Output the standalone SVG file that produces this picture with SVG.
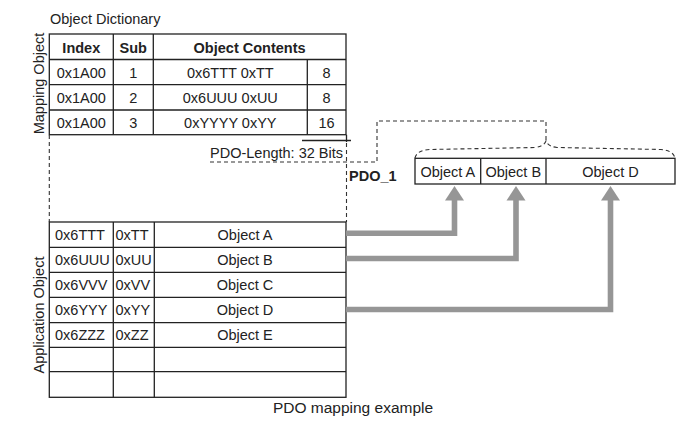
<svg xmlns="http://www.w3.org/2000/svg" width="700" height="434" viewBox="0 0 700 434">
<style>
text{font-family:"Liberation Sans",Arial,sans-serif;font-size:14.5px;fill:#222}
.b{font-weight:bold}
.m{text-anchor:middle}
.ln{stroke:#222;stroke-width:1.3;fill:none}
.dash{stroke:#333;stroke-width:1.1;fill:none;stroke-dasharray:4 3}
.arr{stroke:#969696;stroke-width:5.6;fill:none}
.head{fill:#969696}
</style>
<rect width="700" height="434" fill="#fff"/>
<text x="50" y="24">Object Dictionary</text>
<g id="mapping-table">
<text class="m" transform="translate(43.5,83.5) rotate(-90)">Mapping Object</text>
<rect class="ln" x="49.3" y="34" width="296.7" height="100.7"/>
<path class="ln" d="M49.3,59.5H346M49.3,84.7H346M49.3,110H346M113.3,34V134.7M153.3,34V134.7M307.3,59.5V134.7"/>
<text class="m b" x="81.3" y="52.5">Index</text>
<text class="m b" x="133.3" y="52.5">Sub</text>
<text class="m b" x="249.6" y="52.5">Object Contents</text>
<text class="m" x="81.3" y="78">0x1A00</text><text class="m" x="133.3" y="78">1</text><text class="m" x="230.3" y="78">0x6TTT 0xTT</text><text class="m" x="326.6" y="78">8</text>
<text class="m" x="81.3" y="103">0x1A00</text><text class="m" x="133.3" y="103">2</text><text class="m" x="230.3" y="103">0x6UUU 0xUU</text><text class="m" x="326.6" y="103">8</text>
<text class="m" x="81.3" y="128">0x1A00</text><text class="m" x="133.3" y="128">3</text><text class="m" x="230.3" y="128">0xYYYY 0xYY</text><text class="m" x="326.6" y="128">16</text>
</g>
<g id="pdo-length">
<path class="ln" d="M302,140.5H351M346.5,134.7V142"/>
<text x="210" y="158">PDO-Length: 32 Bits</text>
<path class="dash" d="M210,162H377V121H546V141"/>
<path class="dash" d="M49.3,135V222M346.5,143V222"/>
</g>
<g id="application-table">
<text class="m" transform="translate(43.5,315) rotate(-90)">Application Object</text>
<rect class="ln" x="49.3" y="222" width="296.7" height="175.3"/>
<path class="ln" d="M49.3,247.3H346M49.3,272.3H346M49.3,297.3H346M49.3,322.7H346M49.3,347.3H346M49.3,371.7H346M113.3,222V397.3M154.3,222V397.3"/>
<text x="55" y="239.5">0x6TTT</text><text x="115.5" y="239.5">0xTT</text><text class="m" x="245" y="239.5">Object A</text>
<text x="55" y="264.5">0x6UUU</text><text x="115.5" y="264.5">0xUU</text><text class="m" x="245" y="264.5">Object B</text>
<text x="55" y="289.5">0x6VVV</text><text x="115.5" y="289.5">0xVV</text><text class="m" x="245" y="289.5">Object C</text>
<text x="55" y="314.5">0x6YYY</text><text x="115.5" y="314.5">0xYY</text><text class="m" x="245" y="314.5">Object D</text>
<text x="55" y="339.5">0x6ZZZ</text><text x="115.5" y="339.5">0xZZ</text><text class="m" x="245" y="339.5">Object E</text>
</g>
<g id="pdo1">
<text class="b" x="349" y="180.5">PDO_1</text>
<path class="dash" d="M415,158Q417,150 430,149.5L535,147.5Q544,146.5 546,141Q548,146.5 557,147.5L661,149.5Q673,150.5 675,158"/>
<rect class="ln" x="415" y="158.3" width="260" height="25.7"/>
<path class="ln" d="M480.7,158.3V184M546,158.3V184"/>
<text class="m" x="447.8" y="177">Object A</text>
<text class="m" x="513.3" y="177">Object B</text>
<text class="m" x="610.5" y="177">Object D</text>
</g>
<g id="connectors">
<path class="arr" d="M346,233.3H454.5V199"/>
<polygon class="head" points="454.5,186 445,200.5 464,200.5"/>
<path class="arr" d="M346,258.5H516V199"/>
<polygon class="head" points="516,186 506.5,200.5 525.5,200.5"/>
<path class="arr" d="M346,309.5H610.5V199"/>
<polygon class="head" points="610.5,186 601,200.5 620,200.5"/>
</g>
<text class="m" x="353" y="413" style="font-size:15.5px">PDO mapping example</text>
</svg>
